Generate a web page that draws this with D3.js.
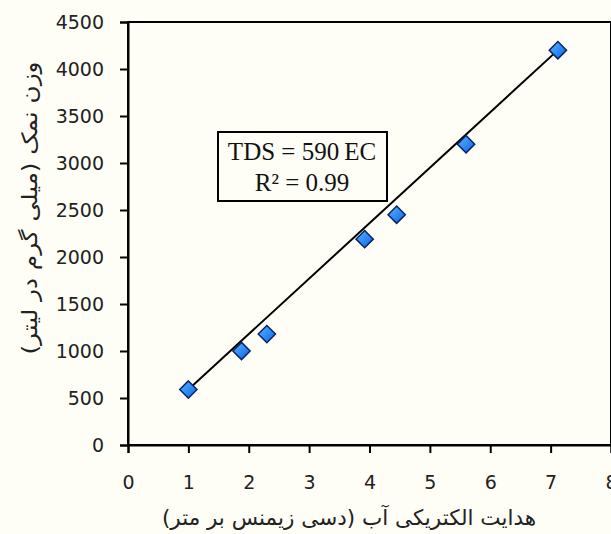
<!DOCTYPE html>
<html>
<head>
<meta charset="utf-8">
<script src="https://cdn.jsdelivr.net/npm/d3@7"></script>
<style>
  body { margin: 0; background: #fefdf6; }
  svg { display: block; }
</style>
</head>
<body>
<svg id="chart"></svg>
<script>
const ec = [1.0, 1.88, 2.3, 3.92, 4.45, 5.6, 7.12];
const tds = [590, 1000, 1180, 2190, 2450, 3200, 4200];
const xTicks = [0, 1, 2, 3, 4, 5, 6, 7, 8];
const yTicks = [0, 500, 1000, 1500, 2000, 2500, 3000, 3500, 4000, 4500];
const slope = 590;
const fitLabels = ["TDS = 590\u2009EC", "R² = 0.99"];
const xTitle = "هدایت الکتریکی آب (دسی زیمنس بر متر)";
const yTitle = "وزن نمک (میلی گرم در لیتر)";

const width = 611;
const height = 534;
const margin = { top: 22, right: 0, bottom: 89, left: 128 };

const svg = d3.select("#chart").attr("width", width).attr("height", height);

svg.append("rect").attr("width", width).attr("height", height).attr("fill", "#fefdf6");

const x = d3.scaleLinear().domain([0, 8]).range([margin.left, width - margin.right]);
const y = d3.scaleLinear().domain([0, 4500]).range([height - margin.bottom, margin.top]);

const defs = svg.append("defs");
const grad = defs
  .append("linearGradient")
  .attr("id", "marker-fill")
  .attr("x1", "0")
  .attr("y1", "0")
  .attr("x2", "1")
  .attr("y2", "1");
grad.append("stop").attr("offset", "0%").attr("stop-color", "#5ab4ff");
grad.append("stop").attr("offset", "100%").attr("stop-color", "#0a64e6");

// plot frame
svg
  .append("rect")
  .attr("x", x(0))
  .attr("y", y(4500))
  .attr("width", x(8) - x(0))
  .attr("height", y(0) - y(4500))
  .attr("fill", "none")
  .attr("stroke", "#000")
  .attr("stroke-width", 2);

const xAxis = svg
  .append("g")
  .attr("transform", `translate(0,${y(0)})`)
  .call(d3.axisBottom(x).tickValues(xTicks).tickSize(8).tickPadding(23).tickFormat(d3.format("d")));

const yAxis = svg
  .append("g")
  .attr("transform", `translate(${x(0)},0)`)
  .call(d3.axisLeft(y).tickValues(yTicks).tickSize(8).tickPadding(16).tickFormat(d3.format("d")));

[xAxis, yAxis].forEach((g) => {
  g.select(".domain").attr("stroke", "#000").attr("stroke-width", 2);
  g.selectAll(".tick line").attr("stroke", "#000").attr("stroke-width", 2);
  g.selectAll(".tick text")
    .attr("fill", "#222")
    .style("font-family", "'DejaVu Sans', Tahoma, sans-serif")
    .style("font-size", "19px");
});

// trend line
const fit = [d3.min(ec), d3.max(ec)];
svg
  .append("line")
  .attr("x1", x(fit[0]))
  .attr("y1", y(slope * fit[0]))
  .attr("x2", x(fit[1]))
  .attr("y2", y(slope * fit[1]))
  .attr("stroke", "#000")
  .attr("stroke-width", 2);

const diamond = d3.symbol().type(d3.symbolDiamond2).size(190);

svg
  .append("g")
  .selectAll("path")
  .data(ec)
  .join("path")
  .attr("transform", (d, i) => `translate(${x(d)},${y(tds[i])})`)
  .attr("d", diamond)
  .attr("fill", "url(#marker-fill)")
  .attr("stroke", "#0b2466")
  .attr("stroke-width", 1.5);

// equation box
const box = svg.append("g");
box
  .append("rect")
  .attr("x", 218)
  .attr("y", 132)
  .attr("width", 169)
  .attr("height", 69)
  .attr("fill", "#fefdf6")
  .attr("stroke", "#000")
  .attr("stroke-width", 2);

box
  .selectAll("text")
  .data(fitLabels)
  .join("text")
  .attr("x", 302)
  .attr("y", (d, i) => 160 + i * 31)
  .attr("text-anchor", "middle")
  .style("font-family", "'Liberation Serif', 'Times New Roman', serif")
  .style("font-size", "25px")
  .attr("fill", "#111")
  .text((d) => d);

svg
  .append("text")
  .attr("x", 349)
  .attr("y", 525)
  .attr("text-anchor", "middle")
  .attr("direction", "rtl")
  .style("font-family", "'DejaVu Sans', Tahoma, sans-serif")
  .style("font-size", "21.5px")
  .attr("fill", "#222")
  .text(xTitle);

svg
  .append("text")
  .attr("transform", "translate(37,208) rotate(-90) scale(1.15,1)")
  .attr("text-anchor", "middle")
  .attr("direction", "rtl")
  .style("font-family", "'DejaVu Sans', Tahoma, sans-serif")
  .style("font-size", "21.5px")
  .attr("fill", "#222")
  .text(yTitle);
</script>
</body>
</html>
